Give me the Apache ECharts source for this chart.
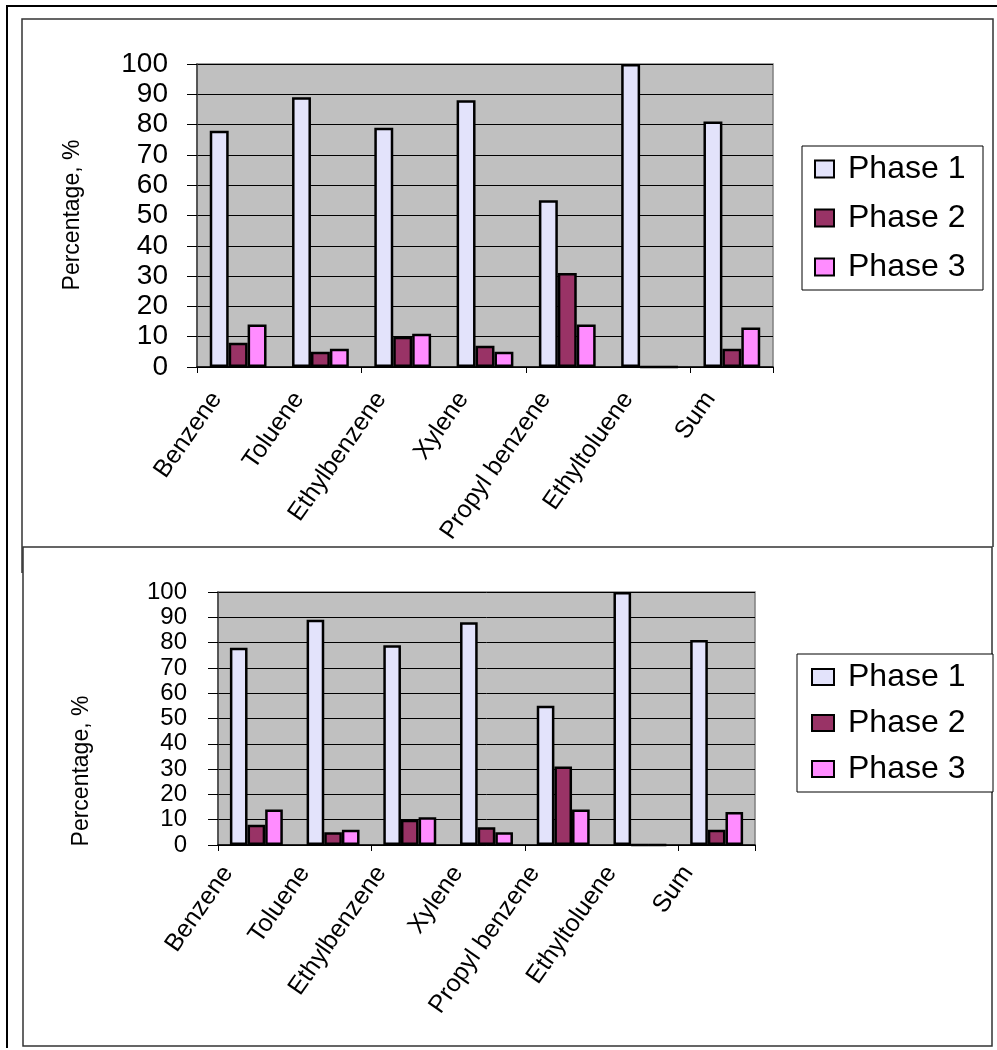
<!DOCTYPE html>
<html>
<head>
<meta charset="utf-8">
<script src="https://cdn.jsdelivr.net/npm/echarts@6/dist/echarts.min.js"></script>
<style>
  html, body { margin: 0; padding: 0; background: #ffffff; }
  #chart { width: 997px; height: 1050px; }
</style>
</head>
<body>
<div id="chart"></div>
<script>
// Compounds on the category axis
const categories = ['Benzene', 'Toluene', 'Ethylbenzene', 'Xylene', 'Propyl benzene', 'Ethyltoluene', 'Sum'];
// Share of each compound found in each phase, %
const phase1 = [78, 89, 79, 88, 55, 100, 81];
const phase2 = [8, 5, 10, 7, 31, 0, 6];
const phase3 = [14, 6, 11, 5, 14, 0, 13];
const seriesNames = ['Phase 1', 'Phase 2', 'Phase 3'];
const yTicks = { min: 0, max: 100, step: 10 };
const axisTitle = 'Percentage, %';

const colors = ['#E3E3FB', '#993366', '#FF8CFF'];
const FONT = 'Liberation Sans, Arial, sans-serif';
const seriesData = [phase1, phase2, phase3];

// Layout of the two identical panels; labelShift moves the slanted category labels left
const panels = [
  { grid: { left: 197, top: 64, width: 576, height: 303 }, yFont: 28, yLine: 28, yMargin: 29,
    xFont: 25, xMargin: 21, labelShift: 17, titleY: 215, titleX: 73,
    legend: { left: 802, top: 146, padding: [7, 10, 7, 12], iw: 19, ih: 17, font: 32, lh: 30, gap: 17, tw: 125 } },
  { grid: { left: 218, top: 592, width: 537, height: 253 }, yFont: 24, yLine: 24, yMargin: 31,
    xFont: 25, xMargin: 17, labelShift: 24, titleY: 771, titleX: 82,
    legend: { left: 797, top: 654, padding: [7, 10, 7, 14], iw: 22, ih: 16, font: 32, lh: 28, gap: 14, tw: 135 } }
];

const chart = echarts.init(document.getElementById('chart'), null, { renderer: 'canvas' });

const grids = [], xAxes = [], yAxes = [], series = [], legends = [], titles = [];
panels.forEach((p, i) => {
  // plotting area
  grids.push(Object.assign({
    show: true, backgroundColor: '#C0C0C0', borderColor: '#808080', borderWidth: 1.5, containLabel: false
  }, p.grid));
  xAxes.push({
    type: 'category', gridIndex: 2 * i, data: categories, boundaryGap: true,
    axisLine: { lineStyle: { color: '#000', width: 1.5 } },
    axisTick: { show: true, length: 6, lineStyle: { color: '#000', width: 1 } },
    axisLabel: { show: false },
    splitLine: { show: false }
  });
  yAxes.push({
    type: 'value', gridIndex: 2 * i, min: yTicks.min, max: yTicks.max, interval: yTicks.step,
    axisLine: { show: true, lineStyle: { color: '#404040', width: 1.5 } },
    axisTick: { show: true, inside: false, length: 10, lineStyle: { color: '#000', width: 1 } },
    axisLabel: {
      margin: p.yMargin, color: '#000', fontFamily: FONT, fontSize: p.yFont, lineHeight: p.yLine,
      showMinLabel: true, showMaxLabel: true, hideOverlap: false
    },
    splitLine: { show: true, lineStyle: { color: '#000', width: 1 } }
  });
  // companion grid that only carries the slanted category labels
  grids.push({
    show: false,
    left: p.grid.left - p.labelShift, top: p.grid.top, width: p.grid.width, height: p.grid.height
  });
  xAxes.push({
    type: 'category', gridIndex: 2 * i + 1, data: categories, boundaryGap: true,
    axisLine: { show: false }, axisTick: { show: false }, splitLine: { show: false },
    axisLabel: {
      interval: 0, rotate: 55, margin: p.xMargin, color: '#000',
      fontFamily: FONT, fontSize: p.xFont, padding: [0, 8, 18, 0]
    }
  });
  yAxes.push({
    type: 'value', gridIndex: 2 * i + 1, min: yTicks.min, max: yTicks.max, show: false
  });
  seriesData.forEach((d, k) => {
    series.push({
      name: seriesNames[k], type: 'bar', xAxisIndex: 2 * i, yAxisIndex: 2 * i, data: d,
      barGap: '0%', barCategoryGap: '31%',
      itemStyle: { color: colors[k], borderColor: '#000', borderWidth: 2.5 },
      emphasis: { disabled: true }, animation: false
    });
  });
  const L = p.legend;
  legends.push({
    orient: 'vertical', left: L.left, top: L.top, padding: L.padding,
    backgroundColor: '#fff', borderColor: '#000', borderWidth: 1,
    icon: 'rect', itemWidth: L.iw, itemHeight: L.ih, itemGap: L.gap,
    itemStyle: { borderColor: '#000', borderWidth: 2 },
    data: seriesNames,
    textStyle: { color: '#000', fontFamily: FONT, fontSize: L.font, lineHeight: L.lh, width: L.tw, padding: [0, 0, 0, 9] },
    selectedMode: false
  });
  titles.push({
    type: 'text', x: p.titleX, y: p.titleY, rotation: Math.PI / 2,
    style: { text: axisTitle, fontFamily: FONT, fontSize: 23, fill: '#000', align: 'center', verticalAlign: 'middle' }
  });
});

chart.setOption({
  animation: false,
  backgroundColor: '#ffffff',
  grid: grids, xAxis: xAxes, yAxis: yAxes, series: series, legend: legends,
  graphic: [
    // outer page frame
    { type: 'polyline', z: -10, shape: { points: [[7, 1048], [7, 6], [997, 6]] }, style: { stroke: '#000', lineWidth: 2, fill: null } },
    // frame around the upper chart
    { type: 'polyline', z: -9, shape: { points: [[22, 573], [22, 19], [993, 19], [993, 547]] }, style: { stroke: '#333', lineWidth: 1.5, fill: null } },
    // frame around the lower chart
    { type: 'rect', z: -8, shape: { x: 23, y: 547, width: 969, height: 499 }, style: { stroke: '#333', lineWidth: 1.5, fill: '#fff' } }
  ].concat(titles)
});
</script>
</body>
</html>
